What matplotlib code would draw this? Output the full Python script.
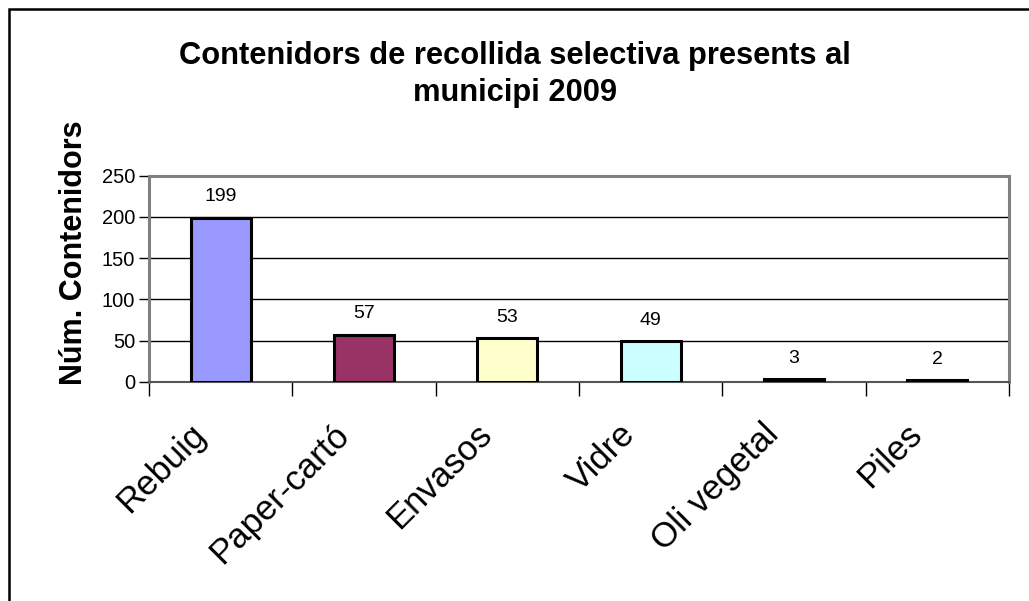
import matplotlib
matplotlib.use('Agg')
import matplotlib.pyplot as plt
from matplotlib.patches import Rectangle

plt.rcParams['font.family'] = ['Liberation Sans', 'DejaVu Sans']

CATEGORIES = ['Rebuig', 'Paper-cartó', 'Envasos', 'Vidre', 'Oli vegetal', 'Piles']
VALUES = [199, 57, 53, 49, 3, 2]
COLORS = ['#9999FF', '#993366', '#FFFFCC', '#CCFFFF', '#660066', '#FF8080']
YTICKS = [0, 50, 100, 150, 200, 250]
TITLE = 'Contenidors de recollida selectiva presents al\nmunicipi 2009'
YLABEL = 'Núm. Contenidors'

W, H = 1029, 601
fig = plt.figure(figsize=(W / 100, H / 100), dpi=100)

# outer chart frame (cut off on right and bottom like the source)
fig.patches.append(Rectangle((8.5 / W, -0.1), 1.2, 1 - 8.5 / H + 0.1,
                             transform=fig.transFigure, fill=False,
                             edgecolor='black', linewidth=1.8))

ax = fig.add_axes([149 / W, 1 - 381.7 / H, 860 / W, 206 / H])
x = list(range(len(CATEGORIES)))
ax.bar(x, VALUES, width=0.42, color=COLORS, edgecolor='black', linewidth=2.2, zorder=3)
for xi, v in zip(x, VALUES):
    ax.annotate(str(v), (xi, v), xytext=(0, 9), textcoords='offset points',
                ha='center', va='bottom', fontsize=14)

ax.set_xlim(-0.5, len(CATEGORIES) - 0.5)
ax.set_ylim(0, 250)
ax.set_yticks(YTICKS)
ax.tick_params(axis='y', direction='out', length=7, width=1, labelsize=14.5, pad=3)
ax.yaxis.grid(True, color='black', linewidth=1, zorder=0)

# category boundary ticks below the axis
ax.set_xticks([i - 0.5 for i in range(len(CATEGORIES) + 1)])
ax.set_xticklabels([])
ax.tick_params(axis='x', direction='out', length=10, width=1)
for xi, lab in zip(x, CATEGORIES):
    ax.annotate(lab, (xi, 0), xytext=(-23, -26), textcoords='offset points',
                rotation=45, ha='right', va='top', rotation_mode='anchor',
                fontsize=25, annotation_clip=False)

for side in ['top', 'right', 'left']:
    ax.spines[side].set_color('#808080')
    ax.spines[side].set_linewidth(2.2)
ax.spines['bottom'].set_color('#555555')
ax.spines['bottom'].set_linewidth(1.5)

fig.text(515 / W, 1 - 74.5 / H, TITLE, ha='center', va='center', fontsize=22.2,
         fontweight='bold', linespacing=1.32)
fig.text(89 / W, 1 - 253 / H, YLABEL, ha='right', va='center', rotation=90,
         fontsize=22, fontweight='bold')

fig.savefig('out.png', dpi=100)
